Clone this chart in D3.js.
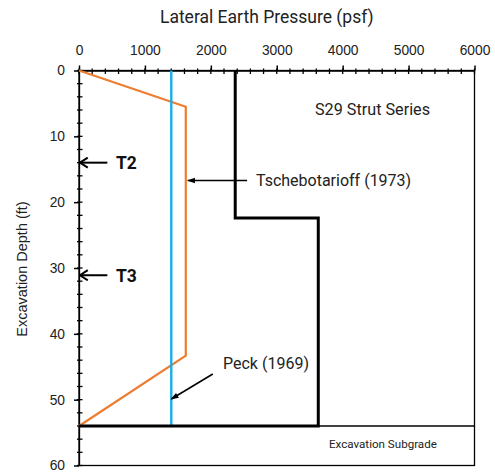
<!DOCTYPE html>
<html><head><meta charset="utf-8">
<script src="https://cdn.jsdelivr.net/npm/d3@7"></script>
<style>body{margin:0;background:#fff}svg{display:block}</style>
</head><body>
<script>
// Data
const xTicks = [0,1000,2000,3000,4000,5000,6000];
const yTicks = [0,10,20,30,40,50,60];
const tschebotarioff = [[0,0],[1620,5.5],[1620,43.3],[0,54]];
const peck = [[1400,0],[1400,54]];
const s29 = [[2370,0],[2370,22.4],[3630,22.4],[3630,54],[0,54]];
const subgrade = [[0,54],[6000,54]];
const struts = [{name:"T2",depth:14.0},{name:"T3",depth:31.1}];

const W=495,H=472;
const m={left:79,top:70.5,right:474.5,bottom:465.5};
const svg=d3.select("body").append("svg").attr("width",W).attr("height",H);
const x=d3.scaleLinear().domain([0,6000]).range([m.left,m.right]);
const y=d3.scaleLinear().domain([0,60]).range([m.top,m.bottom]);

const defs=svg.append("defs");
defs.append("marker").attr("id","ah").attr("viewBox","0 0 10 10").attr("refX",9).attr("refY",5)
 .attr("markerWidth",9).attr("markerHeight",8).attr("orient","auto-start-reverse").attr("markerUnits","userSpaceOnUse")
 .append("path").attr("d","M0,1.5L10,5L0,8.5Z").attr("fill","#000");
defs.append("marker").attr("id","chev").attr("viewBox","0 0 10 10").attr("refX",9.5).attr("refY",5)
 .attr("markerWidth",12).attr("markerHeight",12).attr("orient","auto-start-reverse").attr("markerUnits","userSpaceOnUse")
 .append("path").attr("d","M3,0.8L9.5,5L3,9.2").attr("fill","none").attr("stroke","#000").attr("stroke-width",1.7);

// frame
svg.append("rect").attr("x",m.left).attr("y",m.top).attr("width",m.right-m.left).attr("height",m.bottom-m.top)
 .attr("fill","none").attr("stroke","#000").attr("stroke-width",1.3);

// minor ticks
const xMinor=d3.range(0,6001,200);
svg.append("g").selectAll("line").data(xMinor).join("line")
 .attr("x1",d=>x(d)).attr("x2",d=>x(d)).attr("y1",m.top-2).attr("y2",m.top+3.5).attr("stroke","#000").attr("stroke-width",1.3);
const yMinor=d3.range(0,61,2);
svg.append("g").selectAll("line").data(yMinor).join("line")
 .attr("y1",d=>y(d)).attr("y2",d=>y(d)).attr("x1",m.left-2).attr("x2",m.left+3.5).attr("stroke","#000").attr("stroke-width",1.3);

// axes
const xa=svg.append("g").attr("transform",`translate(0,${m.top})`)
 .call(d3.axisTop(x).tickValues(xTicks).tickFormat(d3.format("d")).tickSize(5).tickPadding(11).tickSizeOuter(0));
const ya=svg.append("g").attr("transform",`translate(${m.left},0)`)
 .call(d3.axisLeft(y).tickValues(yTicks).tickFormat(d3.format("d")).tickSize(5).tickPadding(9).tickSizeOuter(0));
[xa,ya].forEach(a=>{
 a.attr("font-family","Liberation Sans, Arial").attr("font-size",13.8);
 a.select(".domain").attr("stroke-width",1.3);
 a.selectAll(".tick line").attr("stroke-width",1.5);
 a.selectAll("text").attr("fill","#222");
});

const line=d3.line().x(d=>x(d[0])).y(d=>y(d[1]));
svg.append("path").datum(subgrade).attr("d",line).attr("fill","none").attr("stroke","#000").attr("stroke-width",1.5);
svg.append("path").datum(tschebotarioff).attr("d",line).attr("fill","none").attr("stroke","#ED7D31").attr("stroke-width",2.2);
svg.append("path").datum(peck).attr("d",line).attr("fill","none").attr("stroke","#1AAEE8").attr("stroke-width",2.4);
svg.append("path").datum(s29).attr("d",line).attr("fill","none").attr("stroke","#000").attr("stroke-width",3).attr("stroke-linejoin","miter");

const font="Roboto, Open Sans, sans-serif";
// titles
svg.append("text").attr("x",(m.left+m.right)/2-10).attr("y",23).attr("text-anchor","middle")
 .attr("font-family",font).attr("font-size",17.5).attr("fill","#222").text("Lateral Earth Pressure (psf)");
svg.append("text").attr("transform",`translate(27,269) rotate(-90)`).attr("text-anchor","middle")
 .attr("font-family","Liberation Sans, Arial").attr("font-size",14.5).attr("fill","#222").text("Excavation Depth (ft)");

// annotations
svg.append("text").attr("x",315).attr("y",y(6.8)).attr("font-family",font).attr("font-size",16.2).attr("fill","#222").text("S29 Strut Series");
svg.append("text").attr("x",329).attr("y",y(57.3)).attr("font-family",font).attr("font-size",11.6).attr("fill","#222").text("Excavation Subgrade");

svg.append("line").attr("x1",x(2550)).attr("y1",y(16.7)).attr("x2",x(1650)).attr("y2",y(16.7)).attr("stroke","#000").attr("stroke-width",1.5).attr("marker-end","url(#ah)");
svg.append("text").attr("x",256).attr("y",y(16.7)+5.5).attr("font-family",font).attr("font-size",16).attr("fill","#222").text("Tschebotarioff (1973)");

svg.append("line").attr("x1",x(2030)).attr("y1",y(46.1)).attr("x2",x(1400)).attr("y2",y(49.9)).attr("stroke","#000").attr("stroke-width",1.5).attr("marker-end","url(#ah)");
svg.append("text").attr("x",223).attr("y",y(45.3)).attr("font-family",font).attr("font-size",16).attr("fill","#222").text("Peck (1969)");

struts.forEach(s=>{
 svg.append("line").attr("x1",x(430)).attr("y1",y(s.depth)).attr("x2",x(15)).attr("y2",y(s.depth)).attr("stroke","#000").attr("stroke-width",2).attr("marker-end","url(#chev)");
 svg.append("text").attr("x",116).attr("y",y(s.depth)+6.5).attr("font-family",font).attr("font-weight","bold").attr("font-size",17.5).attr("fill","#111").text(s.name);
});
</script>
</body></html>
